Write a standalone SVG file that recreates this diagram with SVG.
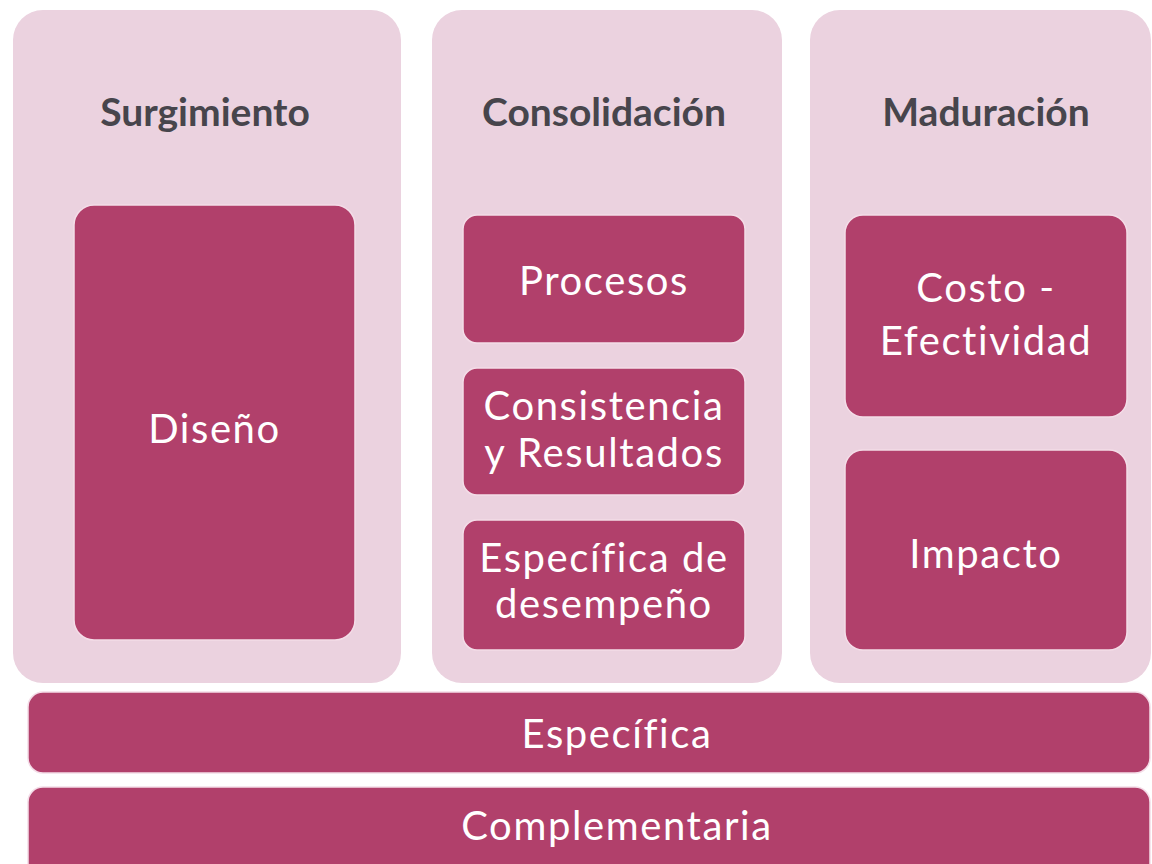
<svg xmlns="http://www.w3.org/2000/svg" width="1152" height="864" viewBox="0 0 1152 864">
<style>
.panel{fill:#ebd2df}
.box{fill:#b1406b;stroke:#f4dde8;stroke-width:1.5}
.title{font-family:Lato,"Open Sans","Liberation Sans",sans-serif;font-weight:bold;font-size:39px;fill:#47454c;text-anchor:middle}
.lbl{font-family:Lato,"Open Sans","Liberation Sans",sans-serif;font-size:40px;fill:#ffffff;text-anchor:middle;letter-spacing:1.6px}
</style>
<rect width="1152" height="864" fill="#ffffff"/>
<g id="panel-surgimiento">
<rect class="panel" x="13" y="10" width="388" height="673" rx="30"/>
<text class="title" x="205" y="126">Surgimiento</text>
</g>
<g id="panel-consolidacion">
<rect class="panel" x="432" y="10" width="350" height="673" rx="30"/>
<text class="title" x="604" y="126">Consolidación</text>
</g>
<g id="panel-maduracion">
<rect class="panel" x="810" y="10" width="341" height="673" rx="30"/>
<text class="title" x="986" y="126">Maduración</text>
</g>
<g id="node-diseno">
<rect class="box" x="74" y="205" width="281" height="435" rx="20"/>
<text class="lbl" x="214.5" y="443">Diseño</text>
</g>
<g id="node-procesos">
<rect class="box" x="463" y="215" width="282" height="128" rx="14"/>
<text class="lbl" x="604" y="295">Procesos</text>
</g>
<g id="node-consistencia">
<rect class="box" x="463" y="368" width="282" height="127" rx="14"/>
<text class="lbl" x="604" y="420">Consistencia</text>
<text class="lbl" x="604" y="467">y Resultados</text>
</g>
<g id="node-especifica-desempeno">
<rect class="box" x="463" y="520" width="282" height="130" rx="14"/>
<text class="lbl" x="604" y="572">Específica de</text>
<text class="lbl" x="604" y="618">desempeño</text>
</g>
<g id="node-costo">
<rect class="box" x="845" y="215" width="282" height="202" rx="18"/>
<text class="lbl" x="986" y="302">Costo -</text>
<text class="lbl" x="986" y="355">Efectividad</text>
</g>
<g id="node-impacto">
<rect class="box" x="845" y="450" width="282" height="200" rx="18"/>
<text class="lbl" x="986" y="568">Impacto</text>
</g>
<g id="node-especifica">
<rect class="box" x="28" y="692" width="1122" height="81" rx="15"/>
<text class="lbl" x="617" y="748">Específica</text>
</g>
<g id="node-complementaria">
<rect class="box" x="28" y="787" width="1122" height="100" rx="15"/>
<text class="lbl" x="617" y="840">Complementaria</text>
</g>
<g id="connectors"></g>
</svg>
